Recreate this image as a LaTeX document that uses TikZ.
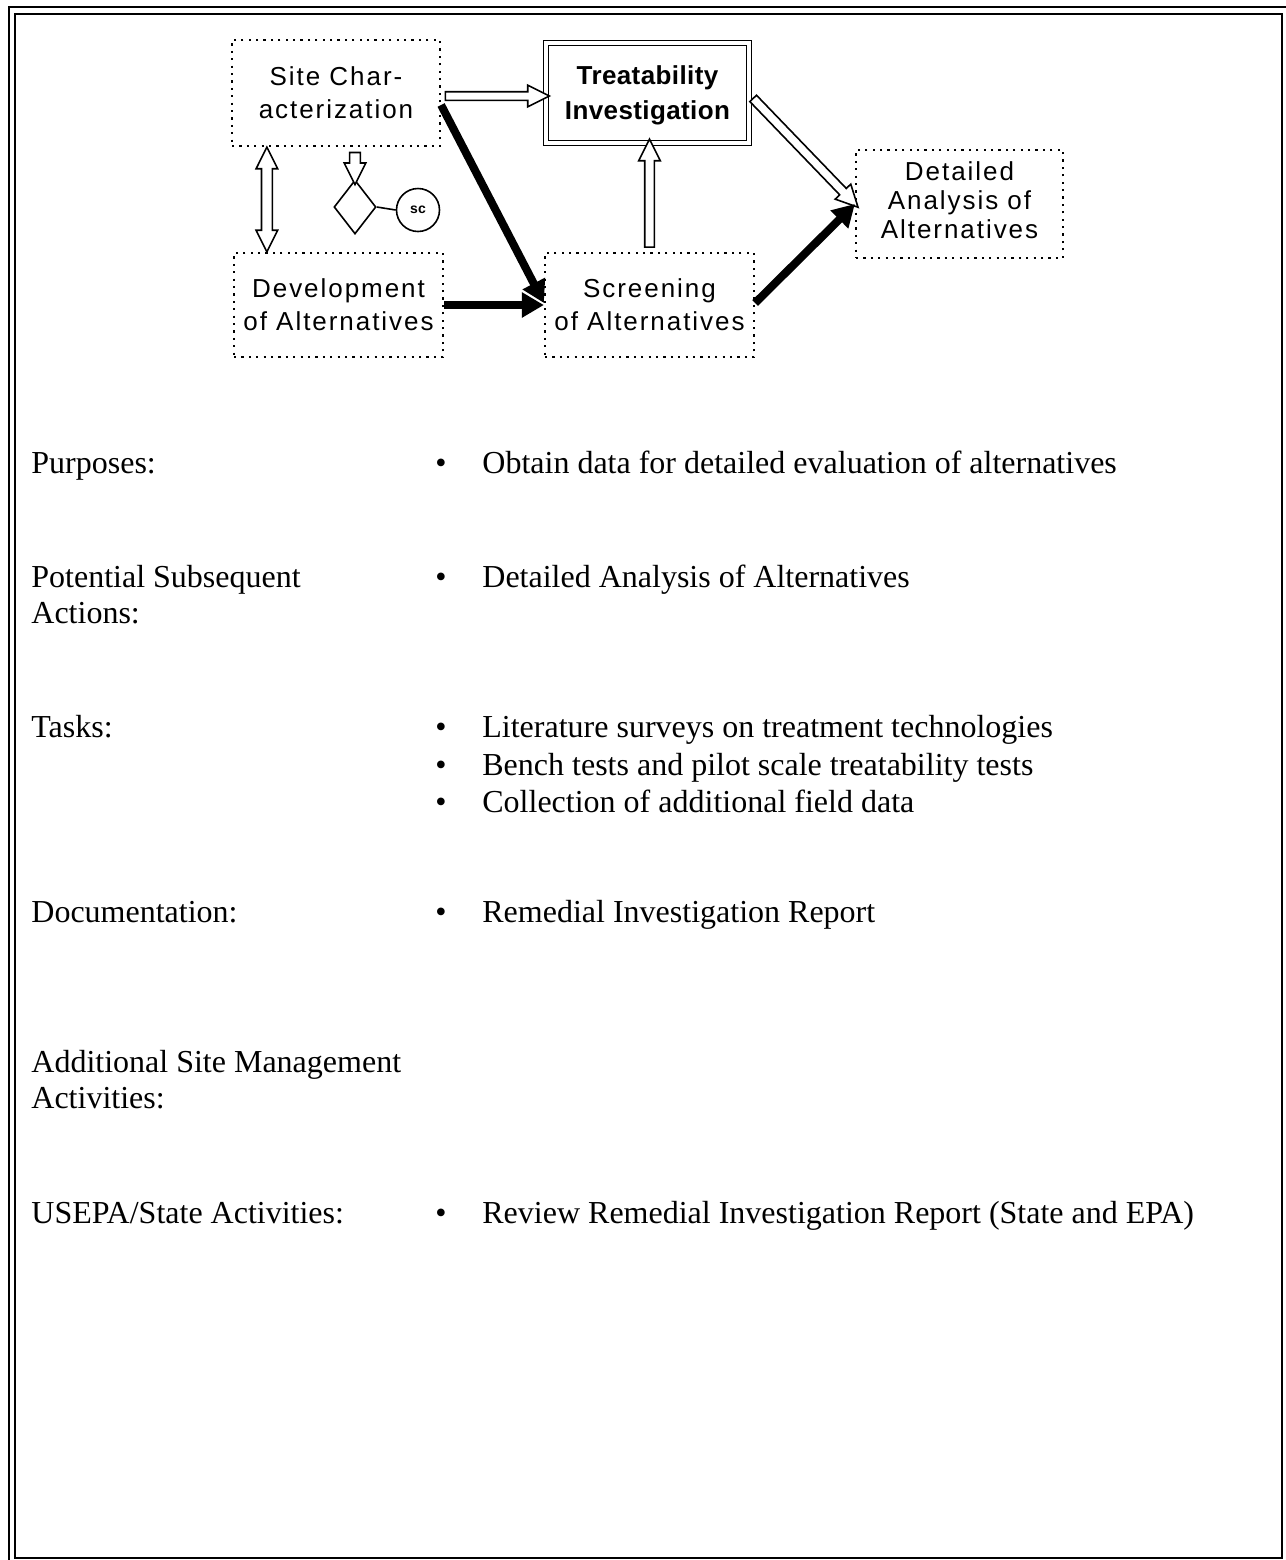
\documentclass[tikz,border=0pt]{standalone}
\usepackage{fontspec}
\setmainfont{Liberation Serif}
\newfontfamily\boxfont[LetterSpace=7.5]{Liberation Sans}
\newfontfamily\boxboldfont[LetterSpace=1.5]{Liberation Sans}
\usetikzlibrary{arrows.meta,shapes.arrows,shapes.geometric,calc}

% open (outlined) block arrow laid between two points
\newcommand\hollowarrow[3]{%
  \path let \p1=#2, \p2=#3,
    \n1={atan2(\y2-\y1,\x2-\x1)}, \n2={veclen(\x2-\x1,\y2-\y1)} in
    node[#1, rotate=\n1, minimum height=\n2] at ($(\p1)!0.5!(\p2)$) {};}

\tikzset{
  frame/.style={draw=black, line width=1.3pt},
  dotbox/.style={draw, line width=1.1pt, dash pattern=on 1.1pt off 2.6pt,
    inner sep=0pt, align=center, font=\boxfont\fontsize{13}{16.5}\selectfont},
  treatbox/.style={draw, double, line width=0.9pt, double distance=1.6pt,
    inner sep=0pt, align=center,
    font=\boxboldfont\bfseries\fontsize{13}{17.5}\selectfont},
  hollow/.style 2 args={draw, single arrow, line width=0.8pt, fill=white,
    inner xsep=0pt, inner ysep=#1, single arrow head extend=#2,
    single arrow tip angle=53, single arrow head indent=0pt, outer sep=0pt},
  hollowboth/.style 2 args={draw, double arrow, line width=0.8pt, fill=white,
    inner xsep=0pt, inner ysep=#1, double arrow head extend=#2,
    double arrow tip angle=53, double arrow head indent=0pt, outer sep=0pt},
  blk/.style={line width=4pt, -{Triangle[length=11pt,width=12pt]}},
  lbl/.style={anchor=base west, inner sep=0pt, align=left,
    font=\fontsize{16}{18}\selectfont},
}

\begin{document}
\begin{tikzpicture}[x=0.5pt, y=-0.5pt]
\useasboundingbox (0,0) rectangle (1286,1560);

% page frame
\draw[frame] (9,1560) -- (9,7) -- (1286,7);
\draw[frame, line width=1.2pt] (15,14) rectangle (1282,1558);

% flow diagram boxes
\node[dotbox, minimum width=104pt, minimum height=53pt] (site) at (336,93) {Site Char-\\acterization};
\node[treatbox, minimum width=101.5pt, minimum height=50pt, text depth=0pt] (treat) at (647.5,93) {Treatability\\Investigation};
\node[dotbox, minimum width=103.5pt, minimum height=54pt, text depth=4pt,
      font=\boxfont\fontsize{13}{14.5}\selectfont] (detail) at (959.5,204) {Detailed\\Analysis of\\Alternatives};
\node[dotbox, minimum width=104.5pt, minimum height=52pt] (dev) at (338.5,305) {Development\\of Alternatives};
\node[dotbox, minimum width=104.5pt, minimum height=52pt] (screen) at (649.5,305) {Screening\\of Alternatives};

% decision point
\node[draw, diamond, line width=0.8pt, inner sep=0pt, minimum width=21pt, minimum height=27pt] (dia) at (355,207) {};
\node[draw, circle, line width=0.8pt, inner sep=0pt, minimum size=21.5pt,
      font=\boxboldfont\bfseries\fontsize{7}{7}\selectfont] (sc) at (418,210) {sc};
\draw[line width=0.8pt] (dia.east) -- (sc.west);

% open arrows
\hollowarrow{hollow={1.75pt}{3.25pt}}{([yshift=-1.5pt]site.east)}{([yshift=-1.5pt]treat.west)}
\hollowarrow{hollowboth={2.3pt}{2.7pt}}{([xshift=18pt]site.south west)}{([xshift=17pt]dev.north west)}
\hollowarrow{hollow={2.3pt}{2.7pt}}{(dia.north |- site.south)}{(dia.north)}
\hollowarrow{hollow={2pt}{3pt}}{(screen.north)}{(screen.north |- treat.south)}
\hollowarrow{hollow={1.9pt}{3.1pt}}{([yshift=-1pt]treat.east)}{(detail.west)}

% solid arrows
\draw[blk] ([yshift=-6pt]site.east) -- ([yshift=1pt]screen.west);
\draw[blk] (dev.east) -- (screen.west);
\draw[blk] ([yshift=1pt]screen.east) -- (detail.west);

% description rows
\node[lbl] (l1) at (31,473) {Purposes:};
\node[lbl] (b1) at (435,473) {\textbullet};
\node[lbl] (t1) at (482,473) {Obtain data for detailed evaluation of alternatives};

\node[lbl] (l2) at (31,623) {Potential Subsequent\\Actions:};
\node[lbl] (b2) at (435,587) {\textbullet};
\node[lbl] (t2) at (482,587) {Detailed Analysis of Alternatives};

\node[lbl] (l3) at (31,737) {Tasks:};
\node[lbl] (b3a) at (435,737) {\textbullet};
\node[lbl] (t3a) at (482,737) {Literature surveys on treatment technologies};
\node[lbl] (b3b) at (435,775) {\textbullet};
\node[lbl] (t3b) at (482,775) {Bench tests and pilot scale treatability tests};
\node[lbl] (b3c) at (435,812) {\textbullet};
\node[lbl] (t3c) at (482,812) {Collection of additional field data};

\node[lbl] (l4) at (31,922) {Documentation:};
\node[lbl] (b4) at (435,922) {\textbullet};
\node[lbl] (t4) at (482,922) {Remedial Investigation Report};

\node[lbl] (l5) at (31,1108) {Additional Site Management\\Activities:};

\node[lbl] (l6) at (31,1223) {USEPA/State Activities:};
\node[lbl] (b6) at (435,1223) {\textbullet};
\node[lbl] (t6) at (482,1223) {Review Remedial Investigation Report (State and EPA)};
\end{tikzpicture}
\end{document}
